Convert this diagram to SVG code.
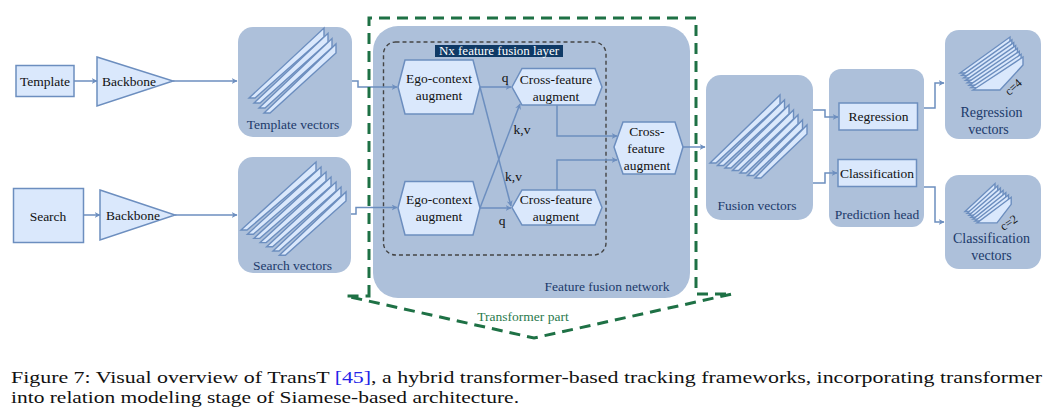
<svg xmlns="http://www.w3.org/2000/svg" width="1052" height="413" viewBox="0 0 1052 413">
<style>
.bg{fill:#ffffff}
.box{fill:#adc0da}
.node{fill:#dae8fc;stroke:#6c8ebf;stroke-width:1.5}
.slab{fill:#dae8fc;stroke:#6c8ebf;stroke-width:1.4;stroke-linejoin:miter}
.edge{fill:none;stroke:#6c8ebf;stroke-width:1.5;marker-end:url(#arr)}
.t{font-family:'Liberation Serif','Times New Roman',serif;font-size:13.5px;text-anchor:middle;fill:#111}
.d{fill:#1c3a6b}
.big{font-size:14px}
.cap{font-family:'Liberation Serif','Times New Roman',serif;font-size:17px;fill:#111}
</style>
<defs>
<marker id="arr" viewBox="0 0 10 10" refX="9" refY="5" markerWidth="6" markerHeight="6" markerUnits="userSpaceOnUse" orient="auto">
<path d="M0,0 L10,5 L0,10 L3,5 z" fill="#6c8ebf"/>
</marker>
</defs>
<rect class="bg" x="0" y="0" width="1052" height="413"/>

<g id="template"><rect class="node" x="16" y="65.5" width="58" height="31"/><text class="t" x="45" y="85.5">Template</text></g>
<g id="backbone1"><polygon class="node" points="97,57 173,81 97,106"/><text class="t" x="129" y="85.5">Backbone</text></g>
<g id="search"><rect class="node" x="13.5" y="188.5" width="70" height="54"/><text class="t" x="48" y="221">Search</text></g>
<g id="backbone2"><polygon class="node" points="100,190 175,215 100,240"/><text class="t" x="133" y="219.5">Backbone</text></g>

<g id="template-vectors">
<rect class="box" x="238" y="27" width="114" height="110" rx="15"/>
<polygon class="slab" points="249,98 324,28 324,37 255,98"/>
<polygon class="slab" points="254,103 328,33.3 328,42.3 260,103"/>
<polygon class="slab" points="259,108 332,38.6 332,47.6 265,108"/>
<polygon class="slab" points="264,113 336,44 336,53 270,113"/>
<text class="t d" x="293" y="128.5">Template vectors</text>
</g>
<g id="search-vectors">
<rect class="box" x="238" y="157" width="113" height="116" rx="15"/>
<polygon class="slab" points="241,230 316,162 316,171 247,230"/>
<polygon class="slab" points="247.4,234.2 321,167 321,176 253.4,234.2"/>
<polygon class="slab" points="253.8,238.4 326,172 326,181 259.8,238.4"/>
<polygon class="slab" points="260.2,242.6 331,177 331,186 266.2,242.6"/>
<polygon class="slab" points="266.6,246.8 336,182 336,191 272.6,246.8"/>
<polygon class="slab" points="273,251 341,187 341,196 279,251"/>
<polygon class="slab" points="279.4,255.2 346,192 346,201 285.4,255.2"/>
<text class="t d" x="292.5" y="270">Search vectors</text>
</g>

<g id="feature-fusion-network">
<rect class="box" x="373" y="26" width="317" height="272" rx="25"/>
<text class="t d" x="607" y="290.5">Feature fusion network</text>
</g>
<g id="fusion-layer">
<rect x="383.5" y="42" width="222.5" height="213" rx="12" fill="none" stroke="#444" stroke-width="1.4" stroke-dasharray="4 3"/>
<rect x="435" y="45" width="128" height="12" fill="#0f3a66"/>
<text class="t" x="499" y="55.3" style="fill:#ffffff;font-size:13px">Nx feature fusion layer</text>
</g>
<g id="ego1"><polygon class="node" points="398,87 405,60 473,60 480,87 473,114 405,114"/><text class="t" x="439" y="83">Ego-context</text><text class="t" x="439" y="100">augment</text></g>
<g id="ego2"><polygon class="node" points="398,208 405,181.5 473,181.5 480,208 473,235 405,235"/><text class="t" x="439" y="204">Ego-context</text><text class="t" x="439" y="221">augment</text></g>
<g id="cross1"><polygon class="node" points="512,87 522,68.5 595,68.5 602,87 595,105 522,105"/><text class="t" x="556" y="84">Cross-feature</text><text class="t" x="556" y="100.5">augment</text></g>
<g id="cross2"><polygon class="node" points="512,207.5 522,190 595,190 602,207.5 595,225 522,225"/><text class="t" x="556" y="204">Cross-feature</text><text class="t" x="556" y="221">augment</text></g>
<g id="cross3"><polygon class="node" points="614,147 623,122 675,122 683,147 675,174 623,174"/><text class="t" x="647" y="136">Cross-</text><text class="t" x="646" y="153">feature</text><text class="t" x="647" y="169.5">augment</text></g>

<g id="fusion-vectors">
<rect class="box" x="706" y="75" width="107" height="145" rx="15"/>
<polygon class="slab" points="710,163 780,95 780,104 716,163"/>
<polygon class="slab" points="717.5,165.5 784.5,100 784.5,109 723.5,165.5"/>
<polygon class="slab" points="725,168 789,105 789,114 731,168"/>
<polygon class="slab" points="732.5,170.5 793.5,110 793.5,119 738.5,170.5"/>
<polygon class="slab" points="740,173 798,115 798,124 746,173"/>
<polygon class="slab" points="747.5,175.5 802.5,120 802.5,129 753.5,175.5"/>
<polygon class="slab" points="755,178 807,125 807,134 761,178"/>
<text class="t d" x="757" y="209.5">Fusion vectors</text>
</g>
<g id="prediction-head">
<rect class="box" x="829" y="69" width="95" height="158" rx="12"/>
<text class="t d" x="877" y="218.5">Prediction head</text>
</g>
<g id="regression"><rect class="node" x="839" y="103" width="78.5" height="27"/><text class="t" x="878.5" y="121">Regression</text></g>
<g id="classification"><rect class="node" x="838" y="159.5" width="78.5" height="27"/><text class="t" x="877" y="178">Classification</text></g>

<g id="regression-vectors">
<rect class="box" x="945" y="30" width="96" height="109" rx="14"/>
<polygon class="slab" points="960,73 1010,37 1010,45 987,73"/>
<polygon class="slab" points="961.9,75.4 1011.9,39.9 1011.9,47.9 988.9,75.4"/>
<polygon class="slab" points="963.7,77.9 1013.7,42.7 1013.7,50.7 990.7,77.9"/>
<polygon class="slab" points="965.6,80.3 1015.6,45.6 1015.6,53.6 992.6,80.3"/>
<polygon class="slab" points="967.4,82.7 1017.4,48.4 1017.4,56.4 994.4,82.7"/>
<polygon class="slab" points="969.3,85.2 1019.3,51.3 1019.3,59.3 996.3,85.2"/>
<polygon class="slab" points="971.1,87.6 1021.1,54.2 1021.1,62.2 998.1,87.6"/>
<polygon class="slab" points="973,90 1023,57 1023,65 1000,90"/>
<text class="t" x="0" y="0" style="font-size:12px" transform="translate(1016,90) rotate(-42)">c=4</text>
<text class="t d big" x="991.5" y="116.5">Regression</text>
<text class="t d big" x="988.5" y="134">vectors</text>
</g>
<g id="classification-vectors">
<rect class="box" x="945" y="175" width="96" height="94" rx="14"/>
<polygon class="slab" points="965,211.5 995,183.5 995,190.5 985,211.5"/>
<polygon class="slab" points="967,213.4 997.7,185.8 997.7,192.8 987,213.4"/>
<polygon class="slab" points="969,215.3 1000.4,188.1 1000.4,195.1 989,215.3"/>
<polygon class="slab" points="971,217.2 1003.1,190.4 1003.1,197.4 991,217.2"/>
<polygon class="slab" points="973,219.1 1005.8,192.7 1005.8,199.7 993,219.1"/>
<polygon class="slab" points="975,221 1008.5,195 1008.5,202 995,221"/>
<polygon class="slab" points="977,222.9 1011.2,197.3 1011.2,204.3 997,222.9"/>
<text class="t" x="0" y="0" style="font-size:12px" transform="translate(1011,226) rotate(-34)">c=2</text>
<text class="t d big" x="991.5" y="243">Classification</text>
<text class="t d big" x="991.5" y="260">vectors</text>
</g>

<g id="connectors">
<path class="edge" d="M74,81 H97"/>
<path class="edge" d="M173,81 H237"/>
<path class="edge" d="M83.5,215 H100"/>
<path class="edge" d="M175,215 H237"/>
<path class="edge" d="M352,81 H358 V87 H397"/>
<path class="edge" d="M351,214 H356 V207.5 H397"/>
<path class="edge" d="M480,87 H511"/>
<path class="edge" d="M480,87 L511,206"/>
<path class="edge" d="M480,208 L520,104"/>
<path class="edge" d="M480,208 H511"/>
<path class="edge" d="M557,105 V136 H617"/>
<path class="edge" d="M557,190 V160 H617"/>
<path class="edge" d="M683,147 H705"/>
<path class="edge" d="M813,110 H825 V117 H838"/>
<path class="edge" d="M813,183 H825 V173 H837"/>
<path class="edge" d="M924,108 H935 V83 H944"/>
<path class="edge" d="M924,187 H935 V222 H944"/>
<text class="t" x="505" y="81.5">q</text>
<text class="t" x="522" y="134">k,v</text>
<text class="t" x="513.5" y="181">k,v</text>
<text class="t" x="502" y="225">q</text>
</g>

<g id="transformer-part">
<path d="M369,296 L369,18 L696,18 L696,294 L732,294 L534,338 L346,296 Z" fill="none" stroke="#1e7145" stroke-width="3" stroke-dasharray="11 7"/>
<text class="t" x="523" y="321" style="fill:#2a7a4d">Transformer part</text>
</g>

<g id="caption">
<text class="cap" x="11" y="383" textLength="1031" lengthAdjust="spacingAndGlyphs">Figure 7: Visual overview of TransT <tspan fill="#2323e8">[45]</tspan>, a hybrid transformer-based tracking frameworks, incorporating transformer</text>
<text class="cap" x="11" y="403" textLength="508" lengthAdjust="spacingAndGlyphs">into relation modeling stage of Siamese-based architecture.</text>
</g>
</svg>
